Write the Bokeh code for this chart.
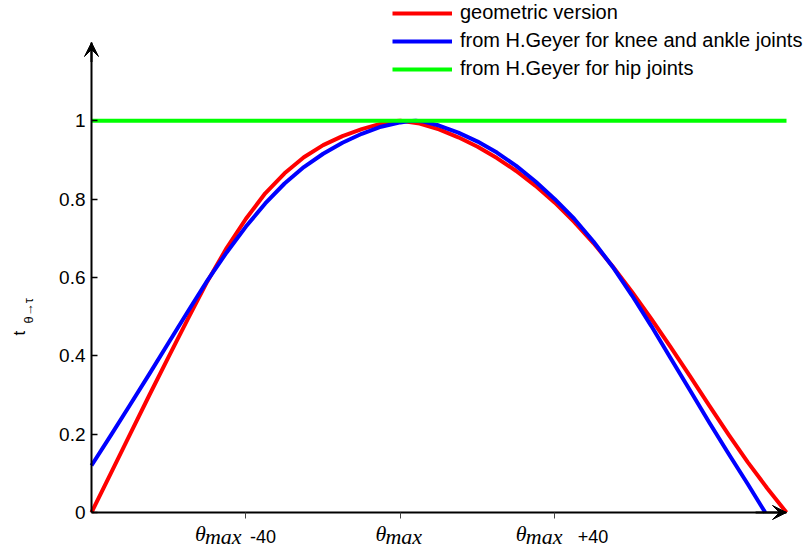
import math
from bokeh.plotting import figure
from bokeh.models import (Range1d, FixedTicker, Legend, LegendItem, Label, Arrow, VeeHead)
from bokeh.core.properties import value
from bokeh.embed import file_html
from bokeh.resources import INLINE

# ---------------- data ----------------
geo_x = [-80, -75, -70, -65, -60, -55, -50, -45, -40, -35, -30, -25, -20, -15, -10, -5, -2, 0,
         5, 10, 15, 20, 25, 30, 35, 40, 45, 50, 55, 60, 65, 70, 75, 80, 85, 90, 95, 100]
geo_y = [0.0, 0.10, 0.20, 0.30, 0.398, 0.495, 0.59, 0.675, 0.75, 0.815, 0.866, 0.907, 0.938, 0.961, 0.979, 0.993, 0.999, 1.0,
         0.993, 0.978, 0.958, 0.934, 0.905, 0.872, 0.834, 0.791, 0.742, 0.688, 0.628, 0.563, 0.494, 0.422, 0.348, 0.273, 0.199, 0.128, 0.062, 0.0]

knee_x = [-80, -75, -70, -65, -60, -55, -50, -45, -40, -35, -30, -25, -20, -15, -10, -5, 0,
          2, 4, 6, 10, 15, 20, 25, 30, 35, 40, 45, 50, 55, 60, 65, 70, 75, 80, 85, 90, 94.5]
knee_y = [0.12, 0.197, 0.275, 0.354, 0.434, 0.514, 0.592, 0.664, 0.73, 0.789, 0.84, 0.882, 0.916, 0.944, 0.967, 0.985, 0.996,
          0.999, 1.0, 0.998, 0.988, 0.97, 0.947, 0.919, 0.885, 0.845, 0.80, 0.75, 0.692, 0.627, 0.554, 0.476, 0.394, 0.312, 0.23, 0.15, 0.072, 0.0]

hip_x = [-80, 100]
hip_y = [1.0, 1.0]

labels = ["geometric version", "from H.Geyer for knee and ankle joints", "from H.Geyer for hip joints"]

y_ticks = [0, 0.2, 0.4, 0.6, 0.8, 1]
y_tick_labels = ["0", "0.2", "0.4", "0.6", "0.8", "1"]
x_ticks = [-40, 0, 40]
x_tick_suffix = ["-40", "", "+40"]
y_title_main = "t"
y_title_sub = "θ→τ"

# ---------------- layout constants ----------------
W, H = 805, 556
X_MIN, X_MAX = -80, 100
Y_MIN, Y_MAX = 0, 1.2
LEFT, BOTTOM = 91, 512          # pixel position of the axes origin
AXIS_X_PX = 695                 # pixels spanned by X_MIN..X_MAX
AXIS_Y_PX = 470                 # pixels spanned by Y_MIN..Y_MAX
X_PX = AXIS_X_PX / (X_MAX - X_MIN)
Y_PX = AXIS_Y_PX / (Y_MAX - Y_MIN)

def px_x(px):
    return X_MIN + (px - LEFT) / X_PX

def px_y(py):
    return Y_MIN + (BOTTOM - py) / Y_PX

p = figure(frame_width=W, frame_height=H,
           x_range=Range1d(px_x(0), px_x(W)), y_range=Range1d(px_y(H), px_y(0)),
           output_backend="svg", toolbar_location=None, title=None,
           min_border_left=0, min_border_right=0, min_border_top=0, min_border_bottom=0)
p.outline_line_color = None
p.xgrid.visible = False
p.ygrid.visible = False
p.background_fill_color = "white"
p.border_fill_color = "white"

r_geo = p.line(geo_x, geo_y, line_color="#ff0000", line_width=4, line_join="round")
r_knee = p.line(knee_x, knee_y, line_color="#0000ff", line_width=4, line_join="round")
r_hip = p.line(hip_x, hip_y, line_color="#00ff00", line_width=4)

# y axis
ya = p.yaxis[0]
ya.fixed_location = X_MIN
ya.bounds = (Y_MIN, Y_MAX)
ya.ticker = FixedTicker(ticks=y_ticks)
ya.major_label_overrides = {t: s for t, s in zip(y_ticks, y_tick_labels)}
ya.minor_tick_line_color = None
ya.major_tick_in = 6
ya.major_tick_out = 0
ya.major_tick_line_width = 1.5
ya.axis_line_width = 2
ya.axis_line_color = "black"
ya.major_label_standoff = 6
ya.major_label_text_font = "Liberation Sans"
ya.major_label_text_font_size = "19px"
ya.major_label_text_color = "black"

# x axis
xa = p.xaxis[0]
xa.fixed_location = Y_MIN
xa.bounds = (X_MIN, X_MAX)
xa.ticker = FixedTicker(ticks=x_ticks)
xa.major_label_overrides = {t: "" for t in x_ticks}
xa.major_label_text_font_size = "1px"
xa.minor_tick_line_color = None
xa.major_tick_in = 0
xa.major_tick_out = 6
xa.major_tick_line_width = 1
xa.major_tick_line_color = "#444444"
xa.axis_line_width = 2
xa.axis_line_color = "black"

# arrow heads at the axis ends
p.add_layout(Arrow(end=VeeHead(size=14, fill_color="black", line_color="black", line_width=1),
                   x_start=X_MIN, y_start=Y_MAX - 0.05, x_end=X_MIN, y_end=Y_MAX,
                   line_width=2, line_color="black"))
p.add_layout(Arrow(end=VeeHead(size=14, fill_color="black", line_color="black", line_width=1),
                   x_start=X_MAX - 8, y_start=Y_MIN, x_end=X_MAX, y_end=Y_MIN,
                   line_width=2, line_color="black"))

# x tick labels: theta_max +/- offset
theta_off = [-51, -25, -39]
max_off = [-41, -15, -29]
suf_off = [4, 0, 23]
for t, suf, to, mo, so in zip(x_ticks, x_tick_suffix, theta_off, max_off, suf_off):
    p.add_layout(Label(x=t, y=px_y(533), x_offset=to, text="θ", text_color="black",
                       text_font="Liberation Serif", text_font_style="italic",
                       text_font_size="22px", text_align="left", text_baseline="alphabetic"))
    p.add_layout(Label(x=t, y=px_y(536), x_offset=mo, text="max", text_color="black",
                       text_font="Liberation Serif", text_font_style="italic",
                       text_font_size="22px", text_align="left", text_baseline="alphabetic"))
    if suf:
        p.add_layout(Label(x=t, y=px_y(536), x_offset=so, text=suf, text_color="black",
                           text_font="Liberation Sans", text_font_size="18px",
                           text_align="left", text_baseline="alphabetic"))

# y axis title t_{theta -> tau}, rotated to read upwards
p.text(x=[px_x(19)], y=[px_y(335)], text=[y_title_main], angle=math.pi / 2,
       text_color="black", text_font=value("Liberation Sans"), text_font_size="17px",
       text_align="left", text_baseline="alphabetic")
p.text(x=[px_x(28)], y=[px_y(323)], text=[y_title_sub], angle=math.pi / 2,
       text_color="black", text_font=value("Liberation Sans"), text_font_size="13px",
       text_align="left", text_baseline="alphabetic")

legend = Legend(items=[LegendItem(label=labels[0], renderers=[r_geo]),
                       LegendItem(label=labels[1], renderers=[r_knee]),
                       LegendItem(label=labels[2], renderers=[r_hip])],
                location=(392, 476),
                glyph_width=60, glyph_height=22, label_height=22, label_standoff=8,
                spacing=5, padding=0, margin=0,
                border_line_alpha=0, background_fill_alpha=0,
                label_text_font="Liberation Sans", label_text_font_size="20px",
                label_text_color="black")
p.add_layout(legend)

open("out.html", "w").write(file_html(p, INLINE))
